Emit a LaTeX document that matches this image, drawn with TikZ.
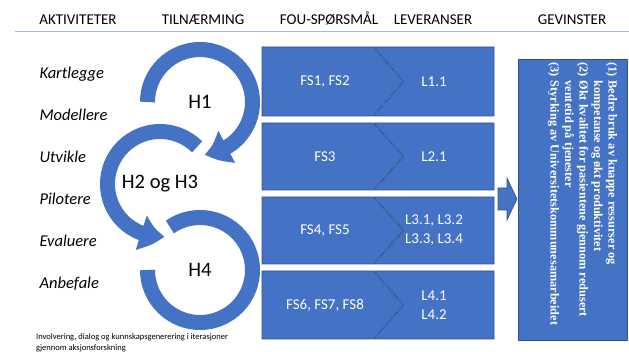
\documentclass[tikz,border=0pt]{standalone}
\usepackage{fontspec}
\setmainfont{Carlito}
\newfontfamily\gevfont{Liberation Serif}
\usetikzlibrary{arrows.meta,bending}

\definecolor{ringblue}{HTML}{4472C4}
\definecolor{boxblue}{HTML}{4472C4}
\definecolor{boxedge}{HTML}{2F528F}
\definecolor{headline}{HTML}{A5BBE3}

\tikzset{
  head/.style={font=\fontsize{15}{18}\selectfont, anchor=base},
  act/.style={font=\fontsize{16.5}{20}\selectfont\itshape, anchor=base west},
  ring/.style={draw=ringblue, line width=15pt},
  ringtip/.style={-{Triangle[width=34pt,length=24pt,bend]}},
  hlabel/.style={font=\fontsize{20.5}{24}\selectfont},
  box/.style={fill=boxblue, draw=boxedge, line width=0.6pt},
  boxtext/.style={text=white, font=\fontsize{15}{19}\selectfont, align=center},
  gev/.style={rotate=-90, anchor=north west, inner sep=0pt, text=white,
    font=\gevfont\bfseries\fontsize{12.3}{14.5}\selectfont},
  caption/.style={anchor=north west, inner sep=0pt, align=left,
    font=\fontsize{8.5}{11}\selectfont}
}

\begin{document}
\begin{tikzpicture}[x=1pt, y=1pt]
  \useasboundingbox (0,0) rectangle (629,352);

  % Headings
  \node[head] (hakt) at (78,327) {AKTIVITETER};
  \node[head] (htil) at (203,327) {TILNÆRMING};
  \node[head] (hfou) at (329,327) {FOU-SPØRSMÅL};
  \node[head] (hlev) at (433,327) {LEVERANSER};
  \node[head] (hgev) at (572,327) {GEVINSTER};
  \coordinate (lineL) at (15,321);
  \coordinate (lineR) at (629,321);
  \draw[headline, line width=0.8pt] (lineL) -- (lineR);

  % Activities
  \foreach \name [count=\i] in {Kartlegge, Modellere, Utvikle, Pilotere, Evaluere, Anbefale}
    \node[act] (act\i) at (36,315-42*\i) {\name};

  % Rings
  \coordinate (C1) at (200,250);
  \coordinate (C2) at (160,168);
  \coordinate (C4) at (200,82);
  \draw[ring] (C4) ++(125:52.5) arc[start angle=125, end angle=-180, radius=52.5];
  \draw[ring, ringtip] (C2) ++(45:52.5) arc[start angle=45, end angle=275, radius=52.5];
  \draw[ring, ringtip] (C1) ++(180:52.5) arc[start angle=180, end angle=-85, radius=52.5];
  \node[hlabel] (h1) at (C1) {H1};
  \node[hlabel] (h23) at (C2) {H2 og H3};
  \node[hlabel] (h4) at (C4) {H4};

  % Questions and deliveries
  \foreach \t/\b/\fs/\lv [count=\i] in {305/236/{FS1, FS2}/{L1.1},
      229/162/{FS3}/{L2.1},
      155/88/{FS4, FS5}/{L3.1, L3.2\\L3.3, L3.4},
      81/13/{FS6, FS7, FS8}/{L4.1\\L4.2}} {
    \pgfmathsetmacro\m{(\t+\b)/2}
    \draw[box] (262,\t) -- (373,\t) -- (403,\m) -- (373,\b) -- (262,\b) -- cycle;
    \draw[box] (374,\t) -- (494,\t) -- (494,\b) -- (374,\b) -- (404,\m) -- cycle;
    \node[boxtext] (fs\i) at (325,\m) {\fs};
    \node[boxtext] (lev\i) at (434,\m) {\lv};
  }

  % Arrow to gains
  \draw[box] (498,164) -- (507,164) -- (507,174) -- (517,153) -- (507,132)
    -- (507,142) -- (498,142) -- cycle;

  % Gains
  \draw[box] (518,293) rectangle (627,12);
  \node[gev] (gev) at (619,290) {\begin{tabular}{@{}l@{\hspace{4pt}}l@{}}
    (1) & Bedre bruk av knappe ressurser og\\
        & kompetanse og økt produktivitet\\
    (2) & Økt kvalitet for pasientene gjennom redusert\\
        & ventetid på tjenester\\
    (3) & Styrking av Universitetskommunesamarbeidet
  \end{tabular}};

  \node[caption] (cap) at (36,19) {Involvering, dialog og kunnskapsgenerering i iterasjoner\\
    gjennom aksjonsforskning};
\end{tikzpicture}
\end{document}
